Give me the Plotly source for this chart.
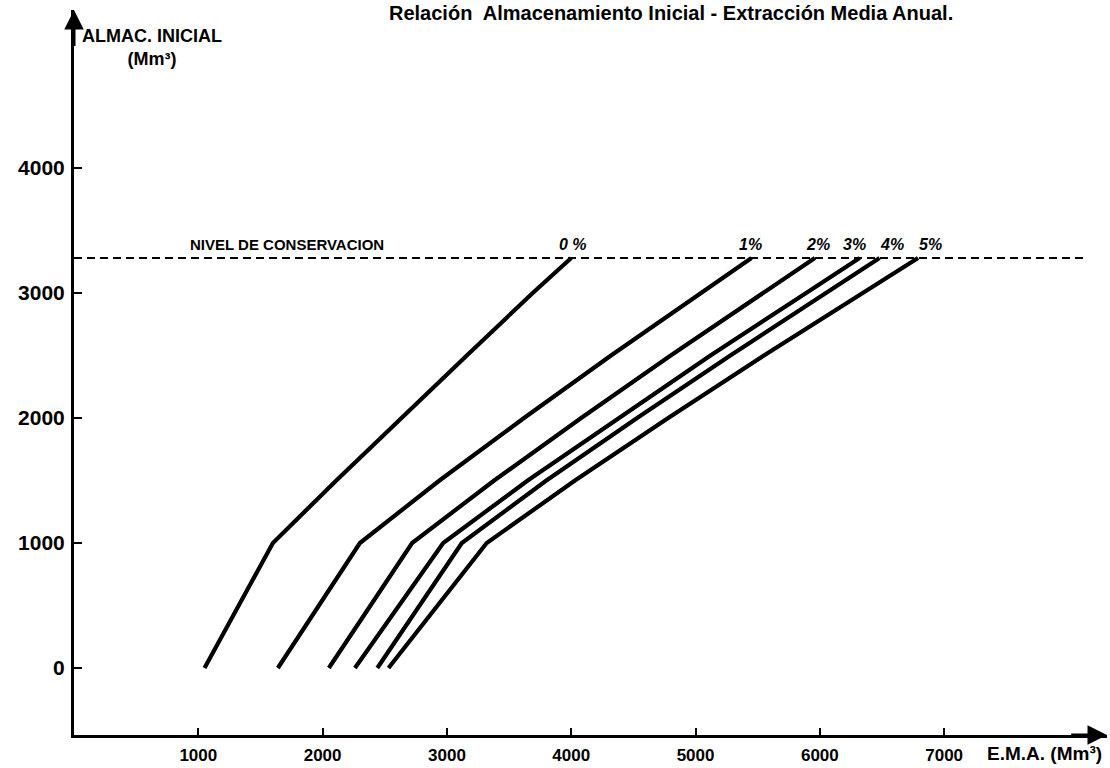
import plotly.graph_objects as go

# ---------------- data ----------------
storage = [0, 1000, 1500, 2000, 2500, 3000, 3280]          # ALMAC. INICIAL (Mm3)
ema_0 = [1050, 1600, 2110, 2630, 3160, 3690, 4000]
ema_1 = [1640, 2300, 2940, 3620, 4320, 5040, 5450]
ema_2 = [2050, 2720, 3380, 4080, 4800, 5540, 5960]
ema_3 = [2260, 2970, 3650, 4380, 5120, 5890, 6320]
ema_4 = [2440, 3120, 3800, 4530, 5280, 6050, 6480]
ema_5 = [2530, 3320, 4030, 4780, 5550, 6350, 6790]
series = [ema_0, ema_1, ema_2, ema_3, ema_4, ema_5]
pct_labels = ["0 %", "1%", "2%", "3%", "4%", "5%"]
nivel_conservacion = 3280
nivel_extent = [0, 8120]
nivel_label_x = 1714
x_ticks = [1000, 2000, 3000, 4000, 5000, 6000, 7000]
y_ticks = [0, 1000, 2000, 3000, 4000]

title_text = "Relación  Almacenamiento Inicial - Extracción Media Anual."
ytitle_text = "ALMAC. INICIAL<br>(Mm³)"
xtitle_text = "E.M.A. (Mm³)"
nivel_text = "NIVEL DE CONSERVACION"

# ---------------- figure ----------------
FONT = "Liberation Sans"
X_RANGE = [0, 8310]
Y_RANGE = [-536, 5264]

fig = go.Figure()

fig.add_trace(go.Scatter(
    x=nivel_extent, y=[nivel_conservacion, nivel_conservacion],
    mode="lines", line=dict(color="black", width=2.2, dash="8px,5px"),
    hoverinfo="skip", showlegend=False))

for s in series:
    fig.add_trace(go.Scatter(
        x=s, y=storage, mode="lines",
        line=dict(color="black", width=4.2),
        showlegend=False))

ann = []
label_shift = [2, -1, 3, -5, 12, 12]
for s, lab, sh in zip(series, pct_labels, label_shift):
    ann.append(dict(x=s[-1], y=nivel_conservacion, xref="x", yref="y",
                    text="<b><i>%s</i></b>" % lab, showarrow=False,
                    yanchor="bottom", xanchor="center", xshift=sh, yshift=3,
                    font=dict(family=FONT, size=16, color="black")))

ann.append(dict(x=nivel_label_x, y=nivel_conservacion, xref="x", yref="y",
                text="<b>%s</b>" % nivel_text, showarrow=False,
                yanchor="bottom", xanchor="center", yshift=3,
                font=dict(family=FONT, size=15, color="black")))

# title
ann.append(dict(x=641 / 1110, y=1, xref="paper", yref="paper",
                text="<b>%s</b>" % title_text, showarrow=False,
                xanchor="center", yanchor="top", yshift=10,
                font=dict(family=FONT, size=20, color="black")))

# y-axis title
ann.append(dict(x=0, y=Y_RANGE[1], xref="x", yref="y",
                text="<b>%s</b>" % ytitle_text, showarrow=False,
                xanchor="center", yanchor="top", xshift=78, yshift=-14,
                font=dict(family=FONT, size=18, color="black")))

# x-axis title
ann.append(dict(x=7810, y=Y_RANGE[0], xref="x", yref="y",
                text="<b>%s</b>" % xtitle_text, showarrow=False,
                xanchor="center", yanchor="middle", yshift=-18,
                font=dict(family=FONT, size=19, color="black")))

# axis arrowheads
ann.append(dict(x=X_RANGE[1], y=Y_RANGE[0], ax=X_RANGE[1] - 300, ay=Y_RANGE[0],
                xref="x", yref="y", axref="x", ayref="y", showarrow=True,
                arrowhead=2, arrowsize=1.3, arrowwidth=3, arrowcolor="black", text=""))
ann.append(dict(x=0, y=Y_RANGE[1], ax=0, ay=Y_RANGE[1] - 300,
                xref="x", yref="y", axref="x", ayref="y", showarrow=True,
                arrowhead=2, arrowsize=1.3, arrowwidth=3, arrowcolor="black", text=""))

fig.update_layout(
    width=1110, height=768,
    margin=dict(l=74, r=3, t=10, b=33),
    paper_bgcolor="white", plot_bgcolor="white",
    showlegend=False,
    annotations=ann,
    font=dict(family=FONT, color="black"),
)

fig.update_xaxes(
    range=X_RANGE, tickvals=x_ticks, ticktext=["<b>%d</b>" % v for v in x_ticks],
    showgrid=False, zeroline=False, showline=True, linecolor="black", linewidth=3,
    ticks="inside", ticklen=7, tickwidth=2, tickcolor="black",
    tickfont=dict(family=FONT, size=17, color="black"),
    ticklabelstandoff=3,
)
fig.update_yaxes(
    range=Y_RANGE, tickvals=y_ticks, ticktext=["<b>%d</b>" % v for v in y_ticks],
    showgrid=False, zeroline=False, showline=True, linecolor="black", linewidth=3,
    ticks="inside", ticklen=8, tickwidth=2, tickcolor="black",
    tickfont=dict(family=FONT, size=21, color="black"),
    ticklabelstandoff=2,
)

fig.write_html("out.html")
